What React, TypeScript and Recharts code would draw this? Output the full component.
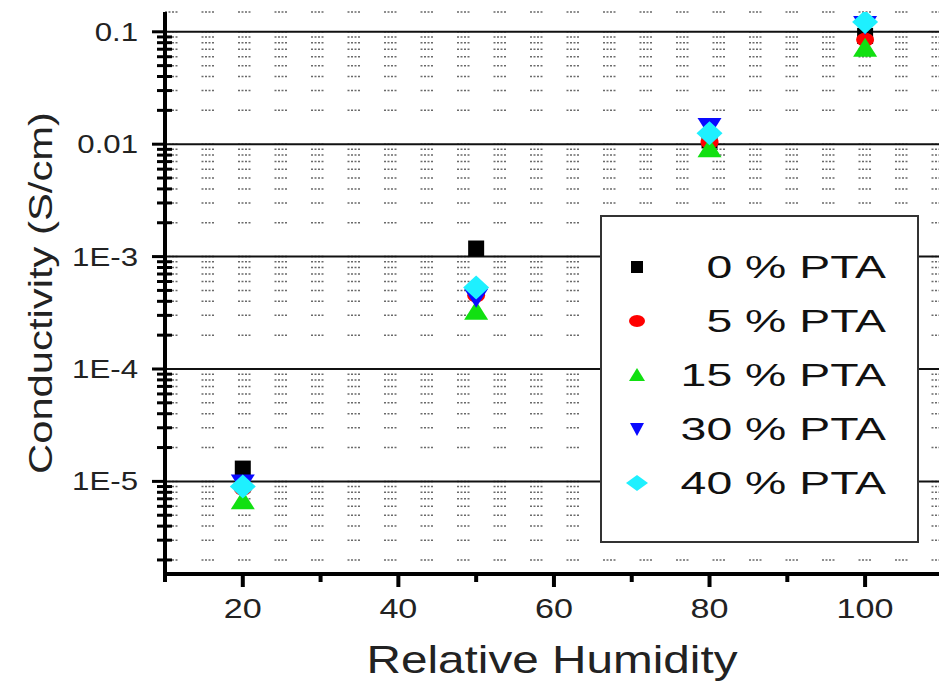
import React from 'react';
import {
  ScatterChart,
  Scatter,
  XAxis,
  YAxis,
  CartesianGrid,
  ReferenceLine,
  Legend,
} from 'recharts';

// relative humidity (%) at which each sample was measured
const humidity = [20, 50, 80, 100];

// conductivity in S/cm
const pta0 = [1.3e-5, 1.18e-3, 0.0108, 0.092];
const pta5 = [8.6e-6, 4.5e-4, 0.0104, 0.085];
const pta15 = [6.8e-6, 3.3e-4, 0.0092, 0.072];
const pta30 = [9.6e-6, 4.3e-4, 0.0142, 0.115];
const pta40 = [9.0e-6, 5.3e-4, 0.0125, 0.122];

const seriesNames = ['0 % PTA', '5 % PTA', '15 % PTA', '30 % PTA', '40 % PTA'];

const xTicks = [10, 20, 30, 40, 50, 60, 70, 80, 90, 100];
const xMajor = [20, 40, 60, 80, 100];

const yMajor = [1e-5, 1e-4, 1e-3, 0.01, 0.1];
const yMajorLabels = ['1E-5', '1E-4', '1E-3', '0.01', '0.1'];
const minorDecades = [1e-6, 1e-5, 1e-4, 1e-3, 0.01];
const minorSteps = [2, 3, 4, 5, 6, 7, 8, 9];
const yTicks = [
  ...minorDecades.flatMap((d) => minorSteps.map((m) => m * d)),
  ...yMajor,
].sort((a, b) => a - b);

const FONT = '"Liberation Sans", Arial, sans-serif';
const TEXT = '#222';

const toPoints = (vals: number[]) => humidity.map((h, i) => ({ x: h, y: vals[i] }));

const majorIndex = (v: number) => yMajor.findIndex((m) => Math.abs(m - v) / m < 1e-6);

// marker shapes
const Square = ({ cx, cy, s = 8 }: any) => (
  <rect x={cx - s} y={cy - s} width={s * 2} height={s * 2} fill="#000" />
);
const Dot = ({ cx, cy, rx = 9, ry = 7 }: any) => (
  <ellipse cx={cx} cy={cy} rx={rx} ry={ry} fill="#ff0000" />
);
const TriUp = ({ cx, cy, w = 12, h = 10 }: any) => (
  <polygon points={`${cx},${cy - h} ${cx + w},${cy + h - 1} ${cx - w},${cy + h - 1}`} fill="#11e011" />
);
const TriDown = ({ cx, cy, w = 12, h = 10 }: any) => (
  <polygon points={`${cx - w},${cy - h + 1} ${cx + w},${cy - h + 1} ${cx},${cy + h}`} fill="#0a0aff" />
);
const Diamond = ({ cx, cy, w = 13, h = 12 }: any) => (
  <polygon points={`${cx},${cy - h} ${cx + w},${cy} ${cx},${cy + h} ${cx - w},${cy}`} fill="#1ef0ff" />
);

const series = [
  { name: seriesNames[0], data: pta0, Shape: Square, legend: { s: 6 } },
  { name: seriesNames[1], data: pta5, Shape: Dot, legend: { rx: 8, ry: 6 } },
  { name: seriesNames[2], data: pta15, Shape: TriUp, legend: { w: 8, h: 7 } },
  { name: seriesNames[3], data: pta30, Shape: TriDown, legend: { w: 7, h: 7 } },
  { name: seriesNames[4], data: pta40, Shape: Diamond, legend: { w: 11, h: 8 } },
];

const YTick = (props: any) => {
  const { x, y, payload } = props;
  const idx = majorIndex(payload.value);
  if (idx < 0) {
    return <line x1={x - 8} x2={x + 7} y1={y} y2={y} stroke="#000" strokeWidth={3} />;
  }
  return (
    <g>
      <line x1={x - 13} x2={x} y1={y} y2={y} stroke="#000" strokeWidth={3} />
      <text
        x={0}
        y={0}
        transform={`translate(${x - 27},${y + 9}) scale(1.2,1)`}
        textAnchor="end"
        fontSize={26}
        fontFamily={FONT}
        fill={TEXT}
      >
        {yMajorLabels[idx]}
      </text>
    </g>
  );
};

const XTick = (props: any) => {
  const { x, y, payload } = props;
  const major = xMajor.includes(payload.value);
  return (
    <g>
      <line x1={x} x2={x} y1={y} y2={y + (major ? 13 : 8)} stroke="#000" strokeWidth={4} />
      {major && (
        <text
          x={0}
          y={0}
          transform={`translate(${x},${y + 44}) scale(1.22,1)`}
          textAnchor="middle"
          fontSize={28}
          fontFamily={FONT}
          fill={TEXT}
        >
          {payload.value}
        </text>
      )}
    </g>
  );
};

const XTitle = () => (
  <text
    x={552}
    y={673}
    textAnchor="middle"
    fontSize={39}
    fontFamily={FONT}
    fill={TEXT}
    textLength={371}
    lengthAdjust="spacingAndGlyphs"
  >
    Relative Humidity
  </text>
);

const YTitle = () => (
  <text
    x={0}
    y={0}
    transform="translate(52,293) rotate(-90)"
    textAnchor="middle"
    fontSize={34}
    fontFamily={FONT}
    fill={TEXT}
    textLength={362}
    lengthAdjust="spacingAndGlyphs"
  >
    Conductivity (S/cm)
  </text>
);

const LegendBox = () => (
  <svg
    width={320}
    height={330}
    style={{ position: 'absolute', left: 0, top: 0, overflow: 'visible' }}
  >
    <rect x={1} y={1} width={317} height={326} fill="#fff" stroke="#333" strokeWidth={2} />
    {series.map((s, i) => {
      const cy = 52 + i * 54;
      const { Shape } = s;
      return (
        <g key={s.name}>
          <Shape cx={37} cy={cy} {...s.legend} />
          <text
            x={0}
            y={0}
            transform={`translate(286,${cy + 11}) scale(1.45,1)`}
            textAnchor="end"
            fontSize={32}
            fontFamily={FONT}
            fill="#111"
          >
            {s.name}
          </text>
        </g>
      );
    })}
  </svg>
);

export default function App() {
  return (
    <div style={{ position: 'absolute', left: 0, top: 0, background: '#fff' }}>
      <ScatterChart width={939} height={689} margin={{ top: 12, right: 0, bottom: 0, left: 0 }}>
        <CartesianGrid
          vertical={false}
          stroke="#6a6a6a"
          strokeWidth={1.5}
          strokeDasharray="2 1.5 2 1.5 2 1.5 2 24"
        />
        {yMajor.map((v) => (
          <ReferenceLine key={v} y={v} stroke="#111" strokeWidth={2} />
        ))}
        <XAxis
          type="number"
          dataKey="x"
          domain={[10, 109.5]}
          ticks={xTicks}
          interval={0}
          allowDataOverflow
          height={115}
          tickSize={0}
          tickMargin={0}
          tickLine={false}
          axisLine={{ stroke: '#000', strokeWidth: 4 }}
          tick={<XTick />}
          label={<XTitle />}
        />
        <YAxis
          type="number"
          dataKey="y"
          scale="log"
          domain={[1.5e-6, 0.15]}
          ticks={yTicks}
          interval={0}
          allowDataOverflow
          width={165}
          tickSize={0}
          tickMargin={0}
          tickLine={false}
          axisLine={{ stroke: '#000', strokeWidth: 4 }}
          tick={<YTick />}
          label={<YTitle />}
        />
        {series.map((s) => (
          <Scatter
            key={s.name}
            name={s.name}
            data={toPoints(s.data)}
            shape={<s.Shape />}
            isAnimationActive={false}
          />
        ))}
        <Legend
          wrapperStyle={{ left: 600, top: 215, width: 0, height: 0 }}
          content={() => <LegendBox />}
        />
      </ScatterChart>
    </div>
  );
}
